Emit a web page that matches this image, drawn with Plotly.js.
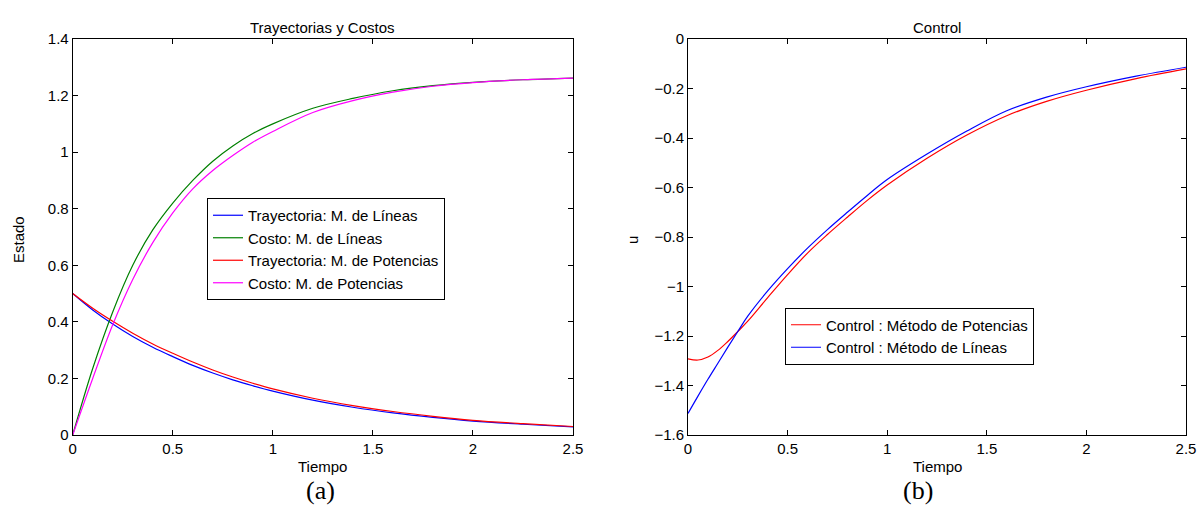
<!DOCTYPE html>
<html>
<head>
<meta charset="utf-8">
<script src="https://cdn.plot.ly/plotly-3.0.1.min.js"></script>
<style>html,body{margin:0;padding:0;background:#fff;}#chart{width:1198px;height:505px;}</style>
</head>
<body>
<div id="chart"></div>
<script>
// ---- Data: panel (a) Trayectorias y Costos ----
const tA = [0, 0.1, 0.2, 0.3, 0.4, 0.5, 0.6, 0.7, 0.8, 0.9, 1.0, 1.2, 1.4, 1.6, 1.8, 2.0, 2.25, 2.5];
const trayLineas   = [0.5, 0.442, 0.392, 0.348, 0.31, 0.277, 0.246, 0.219, 0.195, 0.174, 0.155, 0.123, 0.098, 0.078, 0.062, 0.049, 0.038, 0.029];
const trayPotencias= [0.5, 0.448, 0.402, 0.36, 0.322, 0.289, 0.258, 0.23, 0.205, 0.183, 0.163, 0.13, 0.104, 0.083, 0.066, 0.052, 0.04, 0.03];
const costoLineas  = [0, 0.235, 0.435, 0.6, 0.725, 0.82, 0.9, 0.968, 1.022, 1.066, 1.1, 1.155, 1.19, 1.217, 1.235, 1.247, 1.256, 1.262];
const costoPotencias=[0, 0.2, 0.39, 0.55, 0.68, 0.785, 0.87, 0.935, 0.988, 1.035, 1.073, 1.14, 1.182, 1.212, 1.233, 1.246, 1.256, 1.262];

// ---- Data: panel (b) Control ----
const tB = [0, 0.05, 0.1, 0.15, 0.2, 0.25, 0.3, 0.4, 0.5, 0.6, 0.7, 0.8, 0.9, 1.0, 1.2, 1.4, 1.6, 1.8, 2.0, 2.25, 2.5];
const ctrlPotencias = [-1.292, -1.297, -1.285, -1.258, -1.222, -1.182, -1.14, -1.045, -0.952, -0.865, -0.79, -0.72, -0.652, -0.59, -0.482, -0.388, -0.31, -0.252, -0.207, -0.16, -0.121];
const ctrlLineas    = [-1.513, -1.443, -1.375, -1.31, -1.245, -1.182, -1.12, -1.018, -0.928, -0.845, -0.77, -0.70, -0.632, -0.568, -0.465, -0.372, -0.29, -0.235, -0.193, -0.15, -0.114];

// ---- Text ----
const titleA = "Trayectorias y Costos";
const titleB = "Control";
const xLabel = "Tiempo";
const yLabelA = "Estado";
const yLabelB = "u";
const namesA = ["Trayectoria: M. de Líneas", "Costo: M. de Líneas", "Trayectoria: M. de Potencias", "Costo: M. de Potencias"];
const namesB = ["Control : Método de Potencias", "Control : Método de Líneas"];
const xTicks = [0, 0.5, 1, 1.5, 2, 2.5];
const yTicksA = [0, 0.2, 0.4, 0.6, 0.8, 1, 1.2, 1.4];
const yTicksB = [-1.6, -1.4, -1.2, -1, -0.8, -0.6, -0.4, -0.2, 0];

const W = 1198, H = 505;
const font = "Liberation Sans, Arial, sans-serif";
const serif = "Liberation Serif, Times New Roman, serif";
const lw = 1.2;
const sp = {shape: "spline", smoothing: 1};

function ln(color) { return Object.assign({color: color, width: lw}, sp); }

const traces = [
  {x: tA, y: trayLineas, name: namesA[0], mode: "lines", line: ln("#0000ff"), xaxis: "x", yaxis: "y", legend: "legend"},
  {x: tA, y: costoLineas, name: namesA[1], mode: "lines", line: ln("#008000"), xaxis: "x", yaxis: "y", legend: "legend"},
  {x: tA, y: trayPotencias, name: namesA[2], mode: "lines", line: ln("#ff0000"), xaxis: "x", yaxis: "y", legend: "legend"},
  {x: tA, y: costoPotencias, name: namesA[3], mode: "lines", line: ln("#ff00ff"), xaxis: "x", yaxis: "y", legend: "legend"},
  {x: tB, y: ctrlPotencias, name: namesB[0], mode: "lines", line: ln("#ff0000"), xaxis: "x2", yaxis: "y2", legend: "legend2"},
  {x: tB, y: ctrlLineas, name: namesB[1], mode: "lines", line: ln("#0000ff"), xaxis: "x2", yaxis: "y2", legend: "legend2"}
];

const yBot = 1 - 435 / H, yTop = 1 - 39 / H;
const axBase = {
  showgrid: false, zeroline: false, showline: true, linecolor: "#000", linewidth: 1,
  mirror: "ticks", ticks: "inside", ticklen: 5, tickcolor: "#000", tickwidth: 1,
  tickfont: {family: font, size: 15, color: "#000"}, fixedrange: true
};

const legFont = {family: font, size: 15, color: "#000"};
const ann = (text, x, y, size, extra) => Object.assign({
  text: text, x: x / W, y: 1 - y / H, xref: "paper", yref: "paper", showarrow: false,
  xanchor: "center", yanchor: "middle", font: {family: font, size: size, color: "#000"}
}, extra || {});

const layout = {
  width: W, height: H,
  margin: {l: 0, r: 0, t: 0, b: 0},
  paper_bgcolor: "#fff", plot_bgcolor: "#fff",
  font: {family: font, color: "#000"},
  xaxis: Object.assign({}, axBase, {domain: [72.7 / W, 573 / W], range: [0, 2.5], tickvals: xTicks, anchor: "y"}),
  yaxis: Object.assign({}, axBase, {domain: [yBot, yTop], range: [0, 1.4], tickvals: yTicksA, anchor: "x"}),
  xaxis2: Object.assign({}, axBase, {domain: [688 / W, 1186 / W], range: [0, 2.5], tickvals: xTicks, anchor: "y2"}),
  yaxis2: Object.assign({}, axBase, {domain: [yBot, yTop], range: [-1.6, 0], tickvals: yTicksB, anchor: "x2"}),
  legend: {x: 207 / W, y: 1 - 249 / H, xanchor: "left", yanchor: "middle", bgcolor: "#fff", bordercolor: "#000", borderwidth: 1,
           font: legFont, tracegroupgap: 0, itemwidth: 30},
  legend2: {x: 785 / W, y: 1 - 336 / H, xanchor: "left", yanchor: "middle", bgcolor: "#fff", bordercolor: "#000", borderwidth: 1,
           font: legFont, tracegroupgap: 0, itemwidth: 30},
  showlegend: true,
  annotations: [
    ann(titleA, 322.5, 27, 15),
    ann(titleB, 937, 27, 15),
    ann(xLabel, 322, 466, 15),
    ann(xLabel, 937, 466, 15),
    ann(yLabelA, 18, 240, 15, {textangle: -90}),
    ann(yLabelB, 632, 240, 15, {textangle: -90}),
    ann("(a)", 320, 490, 26, {font: {family: serif, size: 26, color: "#000"}}),
    ann("(b)", 918, 490, 26, {font: {family: serif, size: 26, color: "#000"}})
  ]
};

Plotly.newPlot("chart", traces, layout, {staticPlot: true, displayModeBar: false});
</script>
</body>
</html>
